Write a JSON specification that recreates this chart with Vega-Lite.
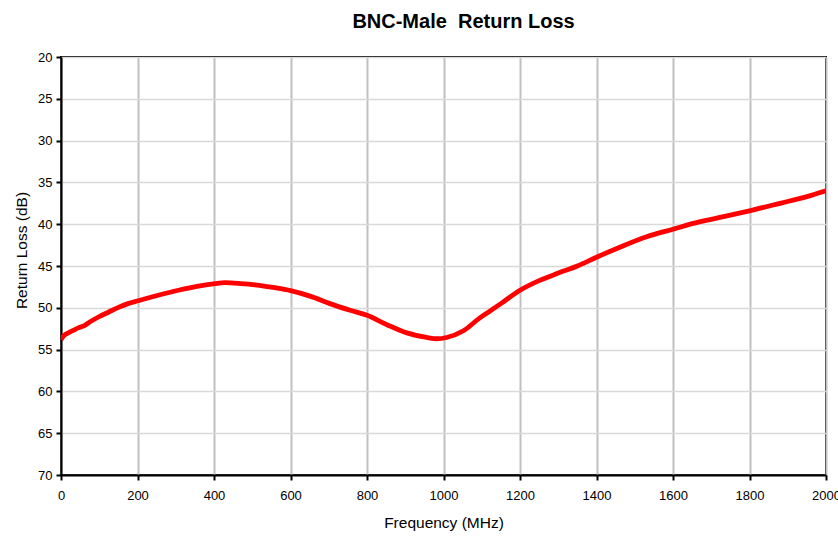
{
  "$schema": "https://vega.github.io/schema/vega-lite/v6.json",
  "width": 765,
  "height": 418,
  "autosize": "none",
  "padding": {"left": 61, "top": 57, "right": 12, "bottom": 61},
  "background": "white",
  "title": {
    "text": "BNC-Male\u00a0 Return Loss",
    "font": "Liberation Sans",
    "fontSize": 20,
    "fontWeight": "bold",
    "color": "#000000",
    "anchor": "middle",
    "dx": 20,
    "offset": 19
  },
  "config": {
    "view": {"stroke": "#000000", "strokeWidth": 2},
    "axis": {
      "labelFont": "Liberation Sans",
      "labelFontSize": 13,
      "labelColor": "#000000",
      "titleFont": "Liberation Sans",
      "titleFontSize": 15.5,
      "titleFontWeight": "normal",
      "titleColor": "#000000",
      "domainColor": "#000000",
      "domainWidth": 2,
      "tickColor": "#000000",
      "tickWidth": 2,
      "tickSize": 5
    }
  },
  "data": {
    "values": [
      {"f": 0, "rl": 53.8},
      {"f": 8, "rl": 53.3},
      {"f": 19, "rl": 53.0},
      {"f": 32, "rl": 52.7},
      {"f": 45, "rl": 52.4},
      {"f": 58, "rl": 52.2},
      {"f": 75, "rl": 51.7},
      {"f": 98, "rl": 51.1},
      {"f": 125, "rl": 50.5},
      {"f": 150, "rl": 49.95},
      {"f": 175, "rl": 49.5},
      {"f": 202, "rl": 49.15},
      {"f": 254, "rl": 48.5},
      {"f": 307, "rl": 47.9},
      {"f": 359, "rl": 47.4},
      {"f": 403, "rl": 47.1},
      {"f": 429, "rl": 47.0},
      {"f": 470, "rl": 47.1},
      {"f": 507, "rl": 47.25},
      {"f": 559, "rl": 47.6},
      {"f": 600, "rl": 47.95},
      {"f": 651, "rl": 48.6},
      {"f": 703, "rl": 49.5},
      {"f": 756, "rl": 50.3},
      {"f": 800, "rl": 50.9},
      {"f": 851, "rl": 52.0},
      {"f": 904, "rl": 53.0},
      {"f": 956, "rl": 53.55},
      {"f": 982, "rl": 53.7},
      {"f": 1008, "rl": 53.55},
      {"f": 1052, "rl": 52.75},
      {"f": 1095, "rl": 51.2},
      {"f": 1121, "rl": 50.4},
      {"f": 1150, "rl": 49.5},
      {"f": 1200, "rl": 47.9},
      {"f": 1250, "rl": 46.75},
      {"f": 1300, "rl": 45.85},
      {"f": 1350, "rl": 45.0},
      {"f": 1400, "rl": 43.95},
      {"f": 1461, "rl": 42.75},
      {"f": 1531, "rl": 41.5},
      {"f": 1600, "rl": 40.6},
      {"f": 1671, "rl": 39.7},
      {"f": 1732, "rl": 39.1},
      {"f": 1800, "rl": 38.4},
      {"f": 1880, "rl": 37.5},
      {"f": 1950, "rl": 36.7},
      {"f": 2000, "rl": 36.0}
    ]
  },
  "layer": [
    {
      "mark": {"type": "line", "color": "#ff0000", "strokeWidth": 4.8, "interpolate": "monotone", "clip": true},
      "encoding": {
        "x": {
          "field": "f",
          "type": "quantitative",
          "scale": {"domain": [0, 2000], "nice": false, "zero": false},
          "axis": {
            "title": "Frequency (MHz)",
            "values": [0, 200, 400, 600, 800, 1000, 1200, 1400, 1600, 1800, 2000],
            "format": "d",
            "grid": true,
            "gridColor": "#c0c0c0",
            "gridWidth": 2,
            "labelPadding": 9,
            "titlePadding": 13,
            "labelFlush": false
          }
        },
        "y": {
          "field": "rl",
          "type": "quantitative",
          "scale": {"domain": [20, 70], "reverse": true, "nice": false, "zero": false},
          "axis": {
            "title": "Return Loss (dB)",
            "values": [20, 25, 30, 35, 40, 45, 50, 55, 60, 65, 70],
            "format": "d",
            "grid": true,
            "gridColor": "#d9d9d9",
            "gridWidth": 1.5,
            "labelPadding": 4,
            "titlePadding": 8,
            "titleY": 193,
            "labelFlush": false
          }
        }
      }
    }
  ]
}
